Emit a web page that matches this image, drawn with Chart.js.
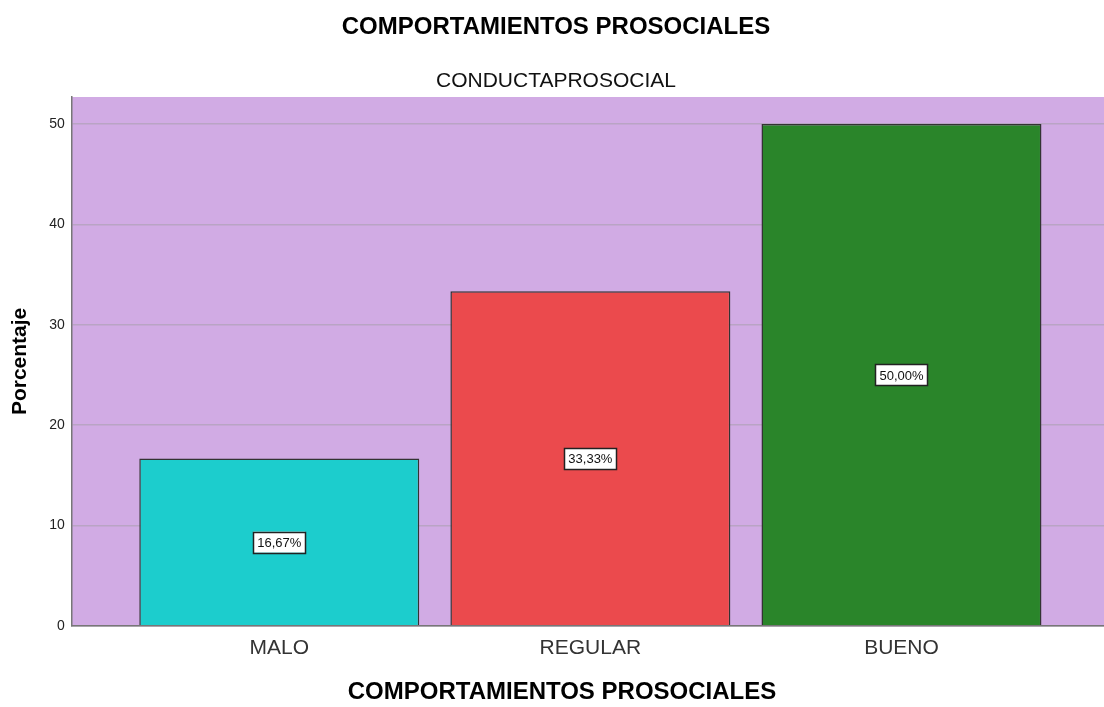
<!DOCTYPE html>
<html lang="es">
<head>
  <meta charset="UTF-8" />
  <title>Comportamientos prosociales</title>
  <script src="https://cdn.jsdelivr.net/npm/chart.js"></script>
  <style>
    body {
      margin: 0;
      background: #fff;
    }
    #wrap {
      width: 1104px;
      height: 707px;
    }
  </style>
</head>
<body>
  <div id="wrap"><canvas id="chart" width="1104" height="707"></canvas></div>

  <script>
    // datos
    const categorias = ['MALO', 'REGULAR', 'BUENO'];
    const porcentajes = [16.67, 33.33, 50.00];
    const etiquetas = ['16,67%', '33,33%', '50,00%'];
    const ticksY = [0, 10, 20, 30, 40, 50];
    const colores = ['#1ccdcd', '#eb4a4d', '#2a852a'];
    const encabezado = 'COMPORTAMIENTOS PROSOCIALES';

    const fuente = '"Liberation Sans", Arial, sans-serif';

    // fondo lila del area del grafico
    const fondoPlugin = {
      id: 'fondo',
      beforeDraw(chart) {
        const { ctx, chartArea: a } = chart;
        ctx.save();
        ctx.fillStyle = '#d1abe4';
        ctx.fillRect(a.left, a.top, a.right - a.left, a.bottom - a.top);
        ctx.restore();
      }
    };

    // etiquetas con caja blanca en el centro de cada barra
    const etiquetasPlugin = {
      id: 'etiquetas',
      afterDatasetsDraw(chart) {
        const { ctx, scales } = chart;
        ctx.save();
        ctx.font = '13px ' + fuente;
        ctx.textAlign = 'center';
        ctx.textBaseline = 'middle';
        porcentajes.forEach((v, i) => {
          const x = scales.x.getPixelForValue(i);
          const y = scales.y.getPixelForValue(v / 2);
          const w = ctx.measureText(etiquetas[i]).width + 8;
          const h = 21;
          ctx.fillStyle = '#ffffff';
          ctx.fillRect(x - w / 2, y - h / 2, w, h);
          ctx.strokeStyle = '#222';
          ctx.lineWidth = 1.5;
          ctx.strokeRect(Math.round(x - w / 2) + 0.5, Math.round(y - h / 2) + 0.5, Math.round(w), h);
          ctx.fillStyle = '#111';
          ctx.fillText(etiquetas[i], x, y + 1);
        });
        ctx.restore();
      }
    };

    // encabezado inferior, centrado en la pagina
    const piePlugin = {
      id: 'pie',
      afterDraw(chart) {
        const { ctx, width, height } = chart;
        ctx.save();
        ctx.font = 'bold 24px ' + fuente;
        ctx.fillStyle = '#000';
        ctx.textAlign = 'center';
        ctx.textBaseline = 'middle';
        ctx.fillText(encabezado, width / 2 + 10, height - 15);
        ctx.restore();
      }
    };

    const ctx = document.getElementById('chart').getContext('2d');
    new Chart(ctx, {
      type: 'bar',
      data: {
        datasets: [{
          data: porcentajes.map((v, i) => ({ x: i, y: v })),
          backgroundColor: colores,
          borderColor: '#333333',
          borderWidth: 1.5,
          borderSkipped: 'bottom',
          barPercentage: 0.9,
          categoryPercentage: 1
        }]
      },
      options: {
        responsive: false,
        animation: false,
        layout: { padding: { left: 8, right: 0, top: 0, bottom: 36 } },
        plugins: {
          legend: { display: false },
          tooltip: { enabled: false },
          title: {
            display: true,
            text: encabezado,
            color: '#000',
            font: { family: fuente, size: 24, weight: 'bold' },
            padding: { top: 13, bottom: 27 }
          },
          subtitle: {
            display: true,
            text: 'CONDUCTAPROSOCIAL',
            color: '#111',
            font: { family: fuente, size: 21 },
            padding: { top: 0, bottom: 3 }
          }
        },
        scales: {
          x: {
            type: 'linear',
            min: -0.667,
            max: 2.651,
            offset: false,
            afterBuildTicks(axis) {
              axis.ticks = categorias.map((c, i) => ({ value: i }));
            },
            ticks: {
              color: '#333',
              font: { family: fuente, size: 21 },
              padding: 10,
              callback: (v) => categorias[v]
            },
            grid: { display: false, drawTicks: false },
            border: { color: '#777', width: 1.5 }
          },
          y: {
            min: 0,
            max: 52.7,
            afterBuildTicks(axis) {
              axis.ticks = ticksY.map(v => ({ value: v }));
            },
            ticks: {
              color: '#222',
              font: { family: fuente, size: 14 },
              padding: 7
            },
            grid: { color: '#b9a4c4', lineWidth: 1.5, drawTicks: false },
            border: { color: '#777', width: 1.5 },
            title: {
              display: true,
              text: 'Porcentaje',
              color: '#000',
              font: { family: fuente, size: 21, weight: 'bold' },
              padding: { top: 0, bottom: 9 }
            }
          }
        }
      },
      plugins: [fondoPlugin, etiquetasPlugin, piePlugin]
    });
  </script>
</body>
</html>
